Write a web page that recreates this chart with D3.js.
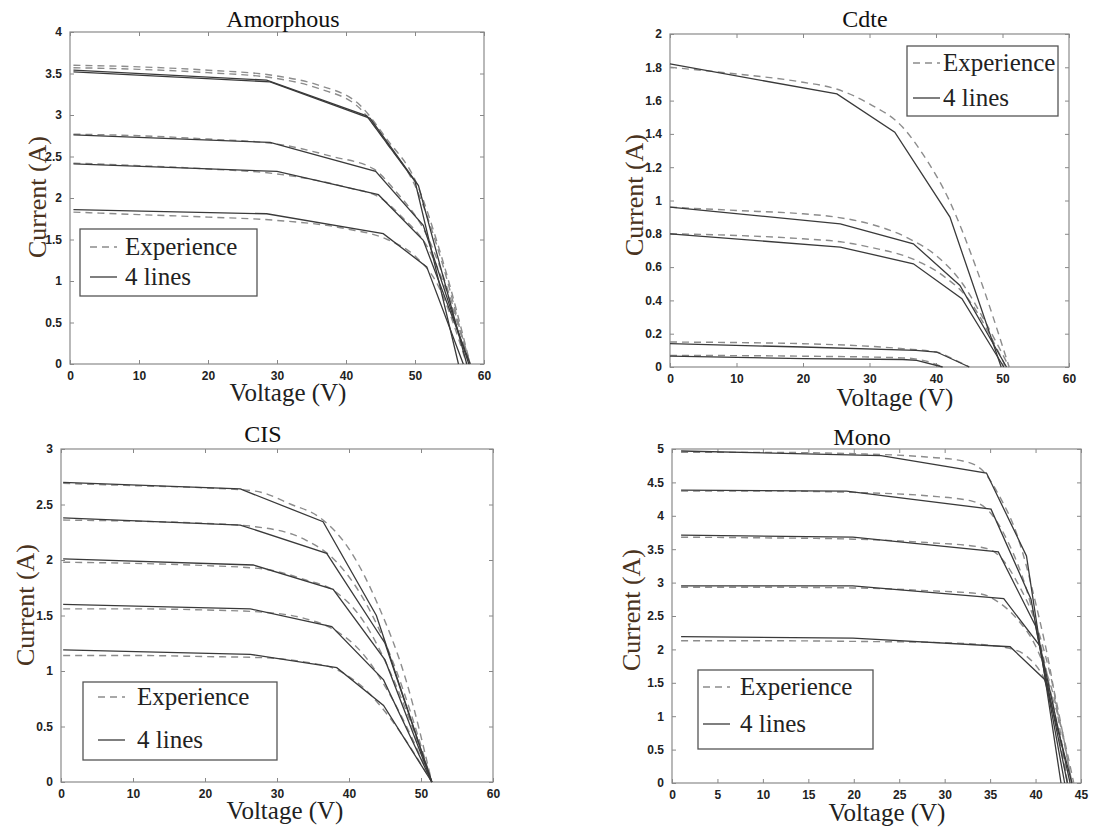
<!DOCTYPE html>
<html lang="en">
<head>
<meta charset="utf-8">
<title>I-V curves, 4 lines model</title>
<script src="https://cdn.jsdelivr.net/npm/d3@7"></script>
<style>
  body { margin: 0; background: #fff; }
  svg { display: block; }
  .tick text { font-family: "Liberation Sans", Arial, sans-serif; font-weight: bold; font-size: 12px; fill: #222; }
  .tick line { stroke: #888; }
</style>
</head>
<body>
<script>
// ---- data (V, I) ----
// Amorphous
const amoModel = [
  [[0.5,3.54],[28.5,3.42],[43,2.99],[50,2.20],[56.3,0]],
  [[0.5,3.52],[29,3.40],[43.5,2.96],[50.5,2.15],[57.5,0]],
  [[0.5,2.76],[29,2.67],[44.3,2.32],[51.2,1.67],[57.8,0]],
  [[0.5,2.41],[30,2.32],[44.7,2.04],[51.2,1.49],[58,0]],
  [[0.5,1.86],[28.5,1.81],[45.4,1.57],[51.7,1.17],[57,0]]
];
const amoExp = [
  [[0.5,3.60],[10,3.58],[20,3.54],[30,3.47],[36,3.36],[42,3.12],[46,2.70],[50,2.22],[54,1.25],[58,0]],
  [[0.5,3.57],[10,3.55],[20,3.51],[30,3.44],[36,3.32],[42,3.08],[46,2.65],[50,2.15],[54,1.20],[57.8,0]],
  [[0.5,2.77],[10,2.75],[20,2.71],[30,2.65],[38,2.50],[44,2.35],[47,2.10],[52,1.50],[58,0]],
  [[0.5,2.42],[10,2.39],[20,2.35],[30,2.29],[40,2.13],[45,2.00],[48,1.78],[52,1.38],[58,0]],
  [[0.5,1.83],[10,1.80],[20,1.77],[30,1.73],[40,1.63],[46,1.50],[50,1.30],[53,1.00],[57.5,0]]
];
// Cdte
const cdteModel = [
  [[0,1.82],[25.1,1.64],[33.8,1.41],[42.1,0.90],[49.8,0]],
  [[0,0.96],[25.6,0.86],[36.6,0.74],[43.6,0.49],[50.6,0]],
  [[0,0.80],[25.6,0.72],[36.6,0.62],[43.9,0.41],[50.2,0]],
  [[0,0.14],[20,0.12],[37,0.10],[40.1,0.09],[45,0]],
  [[0,0.065],[20,0.05],[35,0.045],[37.1,0.04],[41,0]]
];
const cdteExp = [
  [[0,1.80],[10,1.76],[20,1.71],[25,1.67],[30,1.58],[35,1.44],[38,1.28],[42,1.00],[46,0.60],[51,0]],
  [[0,0.96],[10,0.94],[20,0.92],[25,0.90],[30,0.86],[36,0.77],[40,0.67],[44,0.50],[47,0.30],[51,0]],
  [[0,0.80],[10,0.79],[20,0.77],[26,0.75],[30,0.72],[37,0.64],[41,0.55],[45,0.40],[48,0.20],[50.5,0]],
  [[0,0.15],[20,0.14],[35,0.11],[40,0.09],[43,0.04],[45,0]],
  [[0,0.07],[20,0.065],[35,0.055],[39,0.03],[41,0]]
];
// CIS
const cisModel = [
  [[0.3,2.70],[24.9,2.64],[36.4,2.345],[43.8,1.50],[51.5,0]],
  [[0.3,2.38],[24.9,2.315],[36.9,2.06],[45,1.25],[51.5,0]],
  [[0.3,2.01],[26.7,1.955],[37.8,1.735],[45,1.10],[51.5,0]],
  [[0.3,1.60],[26.3,1.56],[37.6,1.40],[44.8,0.92],[51.5,0]],
  [[0.3,1.19],[26.3,1.15],[38.3,1.03],[44.8,0.69],[51.5,0]]
];
const cisExp = [
  [[0.3,2.69],[10,2.67],[20,2.65],[27,2.62],[32,2.50],[36,2.38],[40,2.10],[44,1.60],[48,0.90],[51.5,0]],
  [[0.3,2.36],[10,2.35],[20,2.33],[27,2.30],[34,2.18],[38,2.00],[42,1.65],[46,1.10],[51.5,0]],
  [[0.3,1.98],[10,1.97],[20,1.95],[28,1.92],[34,1.82],[38,1.72],[42,1.45],[46,0.95],[51.5,0]],
  [[0.3,1.56],[10,1.56],[20,1.55],[28,1.53],[34,1.47],[38,1.37],[42,1.15],[46,0.75],[51.5,0]],
  [[0.3,1.14],[10,1.14],[20,1.13],[28,1.12],[34,1.08],[38,1.02],[42,0.85],[46,0.55],[51.5,0]]
];
// Mono
const monoModel = [
  [[1,4.97],[23,4.90],[34.6,4.64],[39,3.40],[42.8,0]],
  [[1,4.385],[19.2,4.37],[35.1,4.10],[39.5,2.75],[43.2,0]],
  [[1,3.71],[19.9,3.68],[35.9,3.46],[40,2.35],[43.5,0]],
  [[1,2.95],[19.9,2.95],[36.5,2.76],[40.5,2.05],[43.8,0]],
  [[1,2.19],[19.9,2.17],[37.2,2.04],[41,1.55],[44,0]]
];
const monoExp = [
  [[1,4.95],[10,4.95],[20,4.93],[28,4.88],[32,4.82],[34,4.70],[36,4.30],[38,3.70],[40,2.70],[42,1.40],[43.5,0]],
  [[1,4.37],[10,4.37],[20,4.35],[28,4.30],[33,4.22],[35,4.05],[37,3.60],[39,2.90],[41,1.80],[43.5,0]],
  [[1,3.68],[10,3.67],[20,3.65],[28,3.60],[34,3.53],[36,3.40],[38,3.00],[40,2.40],[42,1.40],[44,0]],
  [[1,2.93],[10,2.93],[20,2.92],[28,2.88],[34,2.83],[36,2.70],[38,2.45],[40,2.05],[42,1.30],[44,0]],
  [[1,2.13],[10,2.13],[20,2.12],[30,2.10],[35,2.06],[37,2.02],[39,1.90],[41,1.55],[42.5,1.00],[44.2,0]]
];

// tick labels
const xTicks60 = [0,10,20,30,40,50,60];
const xTicks45 = [0,5,10,15,20,25,30,35,40,45];
const amoYTicks = [0,0.5,1,1.5,2,2.5,3,3.5,4];
const cdteYTicks = [0,0.2,0.4,0.6,0.8,1,1.2,1.4,1.6,1.8,2];
const cisYTicks = [0,0.5,1,1.5,2,2.5,3];
const monoYTicks = [0,0.5,1,1.5,2,2.5,3,3.5,4,4.5,5];

const legendLabels = ["Experience", "4 lines"];

// ---- layout ----
const W = 1093, H = 829;
const SERIF = "'Liberation Serif', 'Times New Roman', serif";
const svg = d3.select("body").append("svg").attr("width", W).attr("height", H);

const panels = [
  { title: "Amorphous", model: amoModel, exp: amoExp, xMax: 60, yMax: 4, xt: xTicks60, yt: amoYTicks,
    box: [70, 32, 484, 364], titlePos: [283, 27], yLab: [46, 197], xLab: [288, 401],
    legend: { x: 80, y: 229, w: 177, h: 67, r1: 247, r2: 277, lx: 90, tx: 125 } },
  { title: "Cdte", model: cdteModel, exp: cdteExp, xMax: 60, yMax: 2, xt: xTicks60, yt: cdteYTicks,
    box: [670, 34, 1069, 367], titlePos: [865, 27], yLab: [643, 195], xLab: [895, 406],
    legend: { x: 907, y: 46, w: 151, h: 70, r1: 63, r2: 98, lx: 913, tx: 943 } },
  { title: "CIS", model: cisModel, exp: cisExp, xMax: 60, yMax: 3, xt: xTicks60, yt: cisYTicks,
    box: [61, 449, 493, 782], titlePos: [263, 442], yLab: [34, 605], xLab: [285, 819],
    legend: { x: 83, y: 682, w: 194, h: 78, r1: 697, r2: 740, lx: 98, tx: 137 } },
  { title: "Mono", model: monoModel, exp: monoExp, xMax: 45, yMax: 5, xt: xTicks45, yt: monoYTicks,
    box: [672, 449, 1081, 783], titlePos: [862, 445], yLab: [640, 610], xLab: [887, 821],
    legend: { x: 698, y: 670, w: 175, h: 79, r1: 687, r2: 724, lx: 703, tx: 740 } }
];

const expColor = "#8c8c8c", modelColor = "#3a3a3a";

panels.forEach(function(p) {
  const [x0, y0, x1, y1] = p.box;
  const x = d3.scaleLinear().domain([0, p.xMax]).range([x0, x1]);
  const y = d3.scaleLinear().domain([0, p.yMax]).range([y1, y0]);
  const g = svg.append("g");

  // axes with inner ticks on all four sides
  const fmt = d3.format("~g");
  g.append("g").attr("transform", "translate(0," + y1 + ")")
    .call(d3.axisBottom(x).tickValues(p.xt).tickFormat(fmt).tickSizeInner(-4).tickSizeOuter(0).tickPadding(7));
  g.append("g").attr("transform", "translate(0," + y0 + ")")
    .call(d3.axisTop(x).tickValues(p.xt).tickFormat("").tickSizeInner(-4).tickSizeOuter(0));
  g.append("g").attr("transform", "translate(" + x0 + ",0)")
    .call(d3.axisLeft(y).tickValues(p.yt).tickFormat(fmt).tickSizeInner(-4).tickSizeOuter(0).tickPadding(8));
  g.append("g").attr("transform", "translate(" + x1 + ",0)")
    .call(d3.axisRight(y).tickValues(p.yt).tickFormat("").tickSizeInner(-4).tickSizeOuter(0));
  g.selectAll(".domain").remove();

  g.append("rect")
    .attr("x", x0).attr("y", y0).attr("width", x1 - x0).attr("height", y1 - y0)
    .attr("fill", "none").attr("stroke", "#8a8a8a").attr("stroke-width", 1.2);

  const smooth = d3.line().x(d => x(d[0])).y(d => y(d[1])).curve(d3.curveMonotoneX);
  const straight = d3.line().x(d => x(d[0])).y(d => y(d[1]));

  g.selectAll("path.exp").data(p.exp).enter().append("path")
    .attr("class", "exp").attr("d", smooth)
    .attr("fill", "none").attr("stroke", expColor).attr("stroke-width", 1.4)
    .attr("stroke-dasharray", "7,5");
  g.selectAll("path.model").data(p.model).enter().append("path")
    .attr("class", "model").attr("d", straight)
    .attr("fill", "none").attr("stroke", modelColor).attr("stroke-width", 1.3);

  // title and axis labels
  g.append("text").attr("font-family", SERIF)
    .attr("x", p.titlePos[0]).attr("y", p.titlePos[1])
    .attr("text-anchor", "middle").attr("font-size", 24).attr("fill", "#111")
    .text(p.title);
  g.append("text").attr("font-family", SERIF)
    .attr("transform", "translate(" + p.yLab[0] + "," + p.yLab[1] + ") rotate(-90)")
    .attr("text-anchor", "middle").attr("font-size", 26).attr("fill", "#4a3320")
    .text("Current (A)");
  g.append("text").attr("font-family", SERIF)
    .attr("x", p.xLab[0]).attr("y", p.xLab[1])
    .attr("text-anchor", "middle").attr("font-size", 25).attr("fill", "#222")
    .text("Voltage (V)");

  // legend
  const L = p.legend;
  const lg = g.append("g");
  lg.append("rect").attr("x", L.x).attr("y", L.y).attr("width", L.w).attr("height", L.h)
    .attr("fill", "#fff").attr("stroke", "#555").attr("stroke-width", 1.3);
  const rows = [L.r1, L.r2];
  lg.selectAll("line").data(legendLabels).enter().append("line")
    .attr("x1", L.lx).attr("x2", L.lx + 27)
    .attr("y1", (d, i) => rows[i]).attr("y2", (d, i) => rows[i])
    .attr("stroke", (d, i) => i === 0 ? expColor : modelColor)
    .attr("stroke-width", 1.3)
    .attr("stroke-dasharray", (d, i) => i === 0 ? "7,5" : null);
  lg.selectAll("text").data(legendLabels).enter().append("text")
    .attr("font-family", SERIF)
    .attr("x", L.tx).attr("y", (d, i) => rows[i] + 8)
    .attr("font-size", 25).attr("fill", "#222")
    .text(d => d);
});
</script>
</body>
</html>
